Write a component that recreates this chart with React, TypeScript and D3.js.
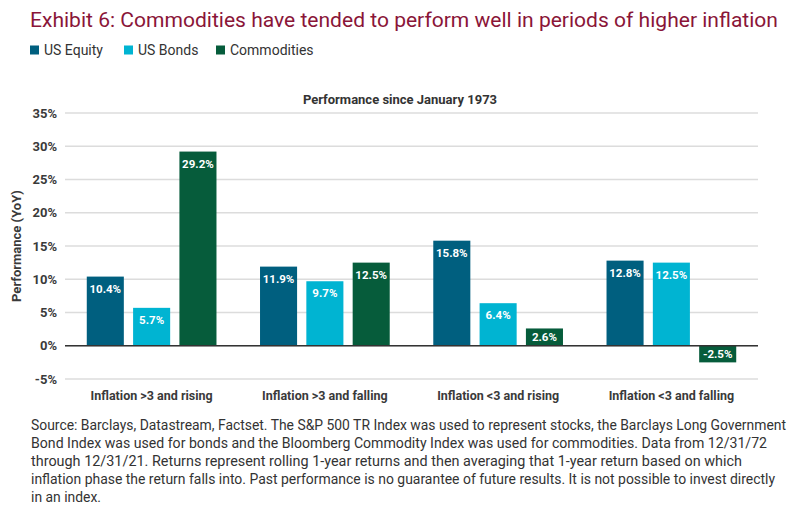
import * as d3 from 'd3'
import React from 'react'

const categories = ['Inflation >3 and rising', 'Inflation >3 and falling', 'Inflation <3 and rising', 'Inflation <3 and falling']
const seriesNames = ['US Equity', 'US Bonds', 'Commodities']
const usEquity = [10.4, 11.9, 15.8, 12.8]
const usBonds = [5.7, 9.7, 6.4, 12.5]
const commodities = [29.2, 12.5, 2.6, -2.5]
const yTicks = [-5, 0, 5, 10, 15, 20, 25, 30, 35]
const colors = ['#005f7f', '#00b4d2', '#065c3b']

const footnote = [
  'Source: Barclays, Datastream, Factset. The S&P 500 TR Index was used to represent stocks, the Barclays Long Government',
  'Bond Index was used for bonds and the Bloomberg Commodity Index was used for commodities. Data from 12/31/72',
  'through 12/31/21. Returns represent rolling 1-year returns and then averaging that 1-year return based on which',
  'inflation phase the return falls into. Past performance is no guarantee of future results. It is not possible to invest directly',
  'in an index.',
]
const footWidths = [755, 736, 711, 744, 70]

const width = 800
const height = 505

const App = () => {
  const values = [usEquity, usBonds, commodities]
  const font = 'Roboto, "Noto Sans", sans-serif'

  const x = d3.scaleBand().domain(categories).range([65, 758])
  const xi = d3.scaleBand().domain(seriesNames).range([0, x.bandwidth()]).paddingInner(0.2).paddingOuter(0.47)
  const y = d3.scaleLinear().domain([-5, 35]).range([379, 113])

  const bars = categories.flatMap((cat, ci) =>
    seriesNames.map((s, si) => {
      const v = values[si][ci]
      const top = y(Math.max(0, v))
      const bottom = y(Math.min(0, v))
      const bx = (x(cat) as number) + (xi(s) as number)
      const labelY = v >= 0 ? Math.min(top + 12, (top + bottom) / 2) : (top + bottom) / 2
      return (
        <g key={cat + s}>
          <rect x={bx} y={top} width={xi.bandwidth()} height={bottom - top} fill={colors[si]} />
          <text
            x={bx + xi.bandwidth() / 2}
            y={labelY}
            dy="0.35em"
            textAnchor="middle"
            fill="#fff"
            fontWeight="bold"
            fontSize={11.5}
          >
            {v.toFixed(1)}%
          </text>
        </g>
      )
    })
  )

  const legendX = [30, 124, 216]

  return (
    <div style={{ position: 'fixed', left: 0, top: 0 }}>
      <svg width={width} height={height} style={{ display: 'block', fontFamily: font }}>
        <rect width={width} height={height} fill="#fff" />
        <text x={30} y={27} fontSize={21} fill="#8a1538" textLength={748} lengthAdjust="spacingAndGlyphs">
          Exhibit 6: Commodities have tended to perform well in periods of higher inflation
        </text>
        {seriesNames.map((s, i) => (
          <g key={s}>
            <rect x={legendX[i]} y={45.5} width={9} height={9} fill={colors[i]} />
            <text x={legendX[i] + 14} y={50} dy="0.35em" fontSize={14} fill="#333">{s}</text>
          </g>
        ))}
        <text x={400} y={99} dy="0.35em" textAnchor="middle" fontSize={13} fontWeight="bold" fill="#333">
          Performance since January 1973
        </text>
        {yTicks.map((t) => (
          <g key={t}>
            <line x1={65} x2={758} y1={y(t)} y2={y(t)} stroke="#dcdcdc" strokeWidth={1.3} />
            <text x={57} y={y(t)} dy="0.35em" textAnchor="end" fontSize={13} fontWeight="bold" fill="#3a3a3a">
              {t}%
            </text>
          </g>
        ))}
        <text
          transform={`translate(16,${(y(35) + y(-5)) / 2}) rotate(-90)`}
          dy="0.35em"
          textAnchor="middle"
          fontSize={13}
          fontWeight="bold"
          fill="#3a3a3a"
        >
          Performance (YoY)
        </text>
        {bars}
        <line x1={65} x2={758} y1={y(0)} y2={y(0)} stroke="#333" strokeWidth={1.6} />
        {categories.map((c) => (
          <text key={c} x={(x(c) as number) + x.bandwidth() / 2} y={396} dy="0.35em" textAnchor="middle" fontSize={12.5} fontWeight="bold" fill="#3a3a3a">
            {c}
          </text>
        ))}
        {footnote.map((line, i) => (
          <text key={i} x={31} y={425 + i * 18} dy="0.35em" fontSize={14} fill="#333" textLength={footWidths[i]} lengthAdjust="spacingAndGlyphs">
            {line}
          </text>
        ))}
      </svg>
    </div>
  )
}

export default App
